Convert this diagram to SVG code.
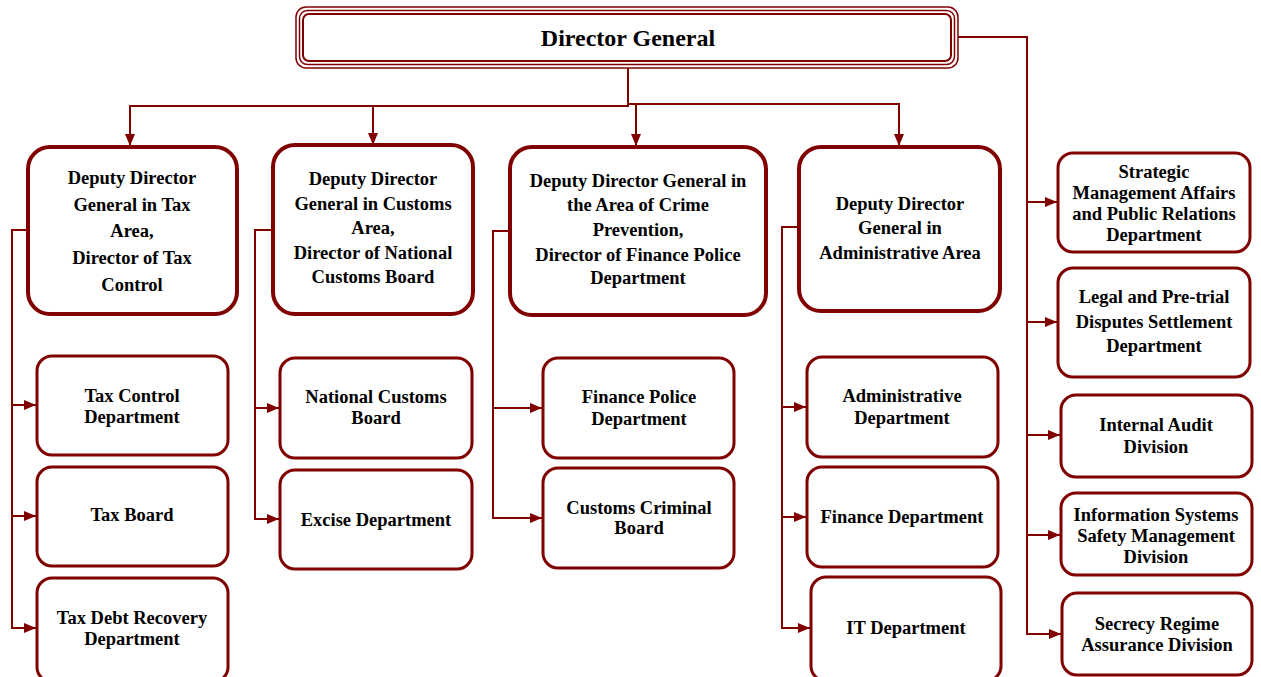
<svg xmlns="http://www.w3.org/2000/svg" width="1261" height="677" viewBox="0 0 1261 677">
<style>
.dg{fill:none;stroke:#800000}
.dep{fill:#fff;stroke:#800000;stroke-width:4}
.sub{fill:#fff;stroke:#800000;stroke-width:3}
.c{fill:none;stroke:#800000;stroke-width:2}
text{font-family:"Liberation Serif","Times New Roman",serif;font-weight:bold;font-size:18.5px;fill:#000;text-anchor:middle}
</style>
<defs>
<marker id="ah" markerUnits="userSpaceOnUse" markerWidth="12" markerHeight="10" refX="12" refY="5" orient="auto">
<path d="M0,0 L12,5 L0,10 z" fill="#800000"/>
</marker>
</defs>
<rect width="1261" height="677" fill="#fff"/>
<g id="connectors">
<path class="c" d="M628,68 V106 H130 V146" marker-end="url(#ah)"/>
<path class="c" d="M373,106 V145" marker-end="url(#ah)"/>
<path class="c" d="M628,104 H899 V146" marker-end="url(#ah)"/>
<path class="c" d="M636,104 V146" marker-end="url(#ah)"/>
<path class="c" d="M958,37 H1027 V634 H1061" marker-end="url(#ah)"/>
<path class="c" d="M1027,202 H1057" marker-end="url(#ah)"/>
<path class="c" d="M1027,322 H1057" marker-end="url(#ah)"/>
<path class="c" d="M1027,435 H1060" marker-end="url(#ah)"/>
<path class="c" d="M1027,535 H1060" marker-end="url(#ah)"/>
<path class="c" d="M28,230 H12 V628 H36" marker-end="url(#ah)"/>
<path class="c" d="M12,405 H36" marker-end="url(#ah)"/>
<path class="c" d="M12,516 H36" marker-end="url(#ah)"/>
<path class="c" d="M273,230 H255 V519 H279" marker-end="url(#ah)"/>
<path class="c" d="M255,408 H279" marker-end="url(#ah)"/>
<path class="c" d="M510,231 H493 V518 H542" marker-end="url(#ah)"/>
<path class="c" d="M493,408 H542" marker-end="url(#ah)"/>
<path class="c" d="M799,227 H782 V628 H810" marker-end="url(#ah)"/>
<path class="c" d="M782,407 H806" marker-end="url(#ah)"/>
<path class="c" d="M782,517 H806" marker-end="url(#ah)"/>
</g>
<g id="director-general">
<rect x="296" y="7" width="662" height="61" rx="10" fill="#fff" stroke="#800000" stroke-width="1.5"/>
<rect class="dg" x="299.5" y="10.5" width="655" height="54" rx="8" stroke-width="1.5"/>
<rect class="dg" x="303" y="14" width="648" height="47" rx="6" stroke-width="2"/>
<text x="628" y="46" style="font-size:24px">Director General</text>
</g>
<g id="deputy-tax">
<rect class="dep" x="28" y="147" width="209" height="167" rx="22"/>
<text x="132" y="184">Deputy Director</text>
<text x="132" y="211">General in Tax</text>
<text x="132" y="237">Area,</text>
<text x="132" y="264">Director of Tax</text>
<text x="132" y="291">Control</text>
</g>
<g id="deputy-customs">
<rect class="dep" x="273" y="145" width="200" height="169" rx="22"/>
<text x="373" y="185">Deputy Director</text>
<text x="373" y="210">General in Customs</text>
<text x="373" y="234">Area,</text>
<text x="373" y="259">Director of National</text>
<text x="373" y="283">Customs Board</text>
</g>
<g id="deputy-crime">
<rect class="dep" x="510" y="147" width="256" height="168" rx="22"/>
<text x="638" y="187">Deputy Director General in</text>
<text x="638" y="211">the Area of Crime</text>
<text x="638" y="236">Prevention,</text>
<text x="638" y="261">Director of Finance Police</text>
<text x="638" y="284">Department</text>
</g>
<g id="deputy-admin">
<rect class="dep" x="799" y="147" width="201" height="164" rx="22"/>
<text x="900" y="210">Deputy Director</text>
<text x="900" y="234">General in</text>
<text x="900" y="259">Administrative Area</text>
</g>
<g id="tax-control">
<rect class="sub" x="37" y="356" width="191" height="99" rx="15"/>
<text x="132" y="402">Tax Control</text>
<text x="132" y="423">Department</text>
</g>
<g id="tax-board">
<rect class="sub" x="37" y="467" width="191" height="99" rx="15"/>
<text x="132" y="521">Tax Board</text>
</g>
<g id="tax-debt">
<rect class="sub" x="37" y="578" width="191" height="104" rx="15"/>
<text x="132" y="624">Tax Debt Recovery</text>
<text x="132" y="645">Department</text>
</g>
<g id="national-customs">
<rect class="sub" x="280" y="358" width="192" height="100" rx="15"/>
<text x="376" y="403">National Customs</text>
<text x="376" y="424">Board</text>
</g>
<g id="excise">
<rect class="sub" x="280" y="470" width="192" height="99" rx="15"/>
<text x="376" y="526">Excise Department</text>
</g>
<g id="finance-police">
<rect class="sub" x="543" y="358" width="191" height="100" rx="15"/>
<text x="639" y="403">Finance Police</text>
<text x="639" y="425">Department</text>
</g>
<g id="customs-criminal">
<rect class="sub" x="543" y="468" width="191" height="100" rx="15"/>
<text x="639" y="514">Customs Criminal</text>
<text x="639" y="534">Board</text>
</g>
<g id="administrative">
<rect class="sub" x="807" y="357" width="191" height="100" rx="15"/>
<text x="902" y="402">Administrative</text>
<text x="902" y="424">Department</text>
</g>
<g id="finance">
<rect class="sub" x="807" y="467" width="191" height="100" rx="15"/>
<text x="902" y="523">Finance Department</text>
</g>
<g id="it">
<rect class="sub" x="811" y="577" width="190" height="104" rx="15"/>
<text x="906" y="634">IT Department</text>
</g>
<g id="strategic">
<rect class="sub" x="1058" y="153" width="192" height="99" rx="15"/>
<text x="1154" y="178">Strategic</text>
<text x="1154" y="199">Management Affairs</text>
<text x="1154" y="220">and Public Relations</text>
<text x="1154" y="241">Department</text>
</g>
<g id="legal">
<rect class="sub" x="1058" y="268" width="192" height="109" rx="15"/>
<text x="1154" y="303">Legal and Pre-trial</text>
<text x="1154" y="328">Disputes Settlement</text>
<text x="1154" y="352">Department</text>
</g>
<g id="internal-audit">
<rect class="sub" x="1061" y="395" width="191" height="82" rx="15"/>
<text x="1156" y="431">Internal Audit</text>
<text x="1156" y="453">Division</text>
</g>
<g id="info-systems">
<rect class="sub" x="1061" y="493" width="191" height="82" rx="15"/>
<text x="1156" y="521">Information Systems</text>
<text x="1156" y="542">Safety Management</text>
<text x="1156" y="563">Division</text>
</g>
<g id="secrecy">
<rect class="sub" x="1062" y="593" width="190" height="82" rx="15"/>
<text x="1157" y="630">Secrecy Regime</text>
<text x="1157" y="651">Assurance Division</text>
</g>
</svg>
